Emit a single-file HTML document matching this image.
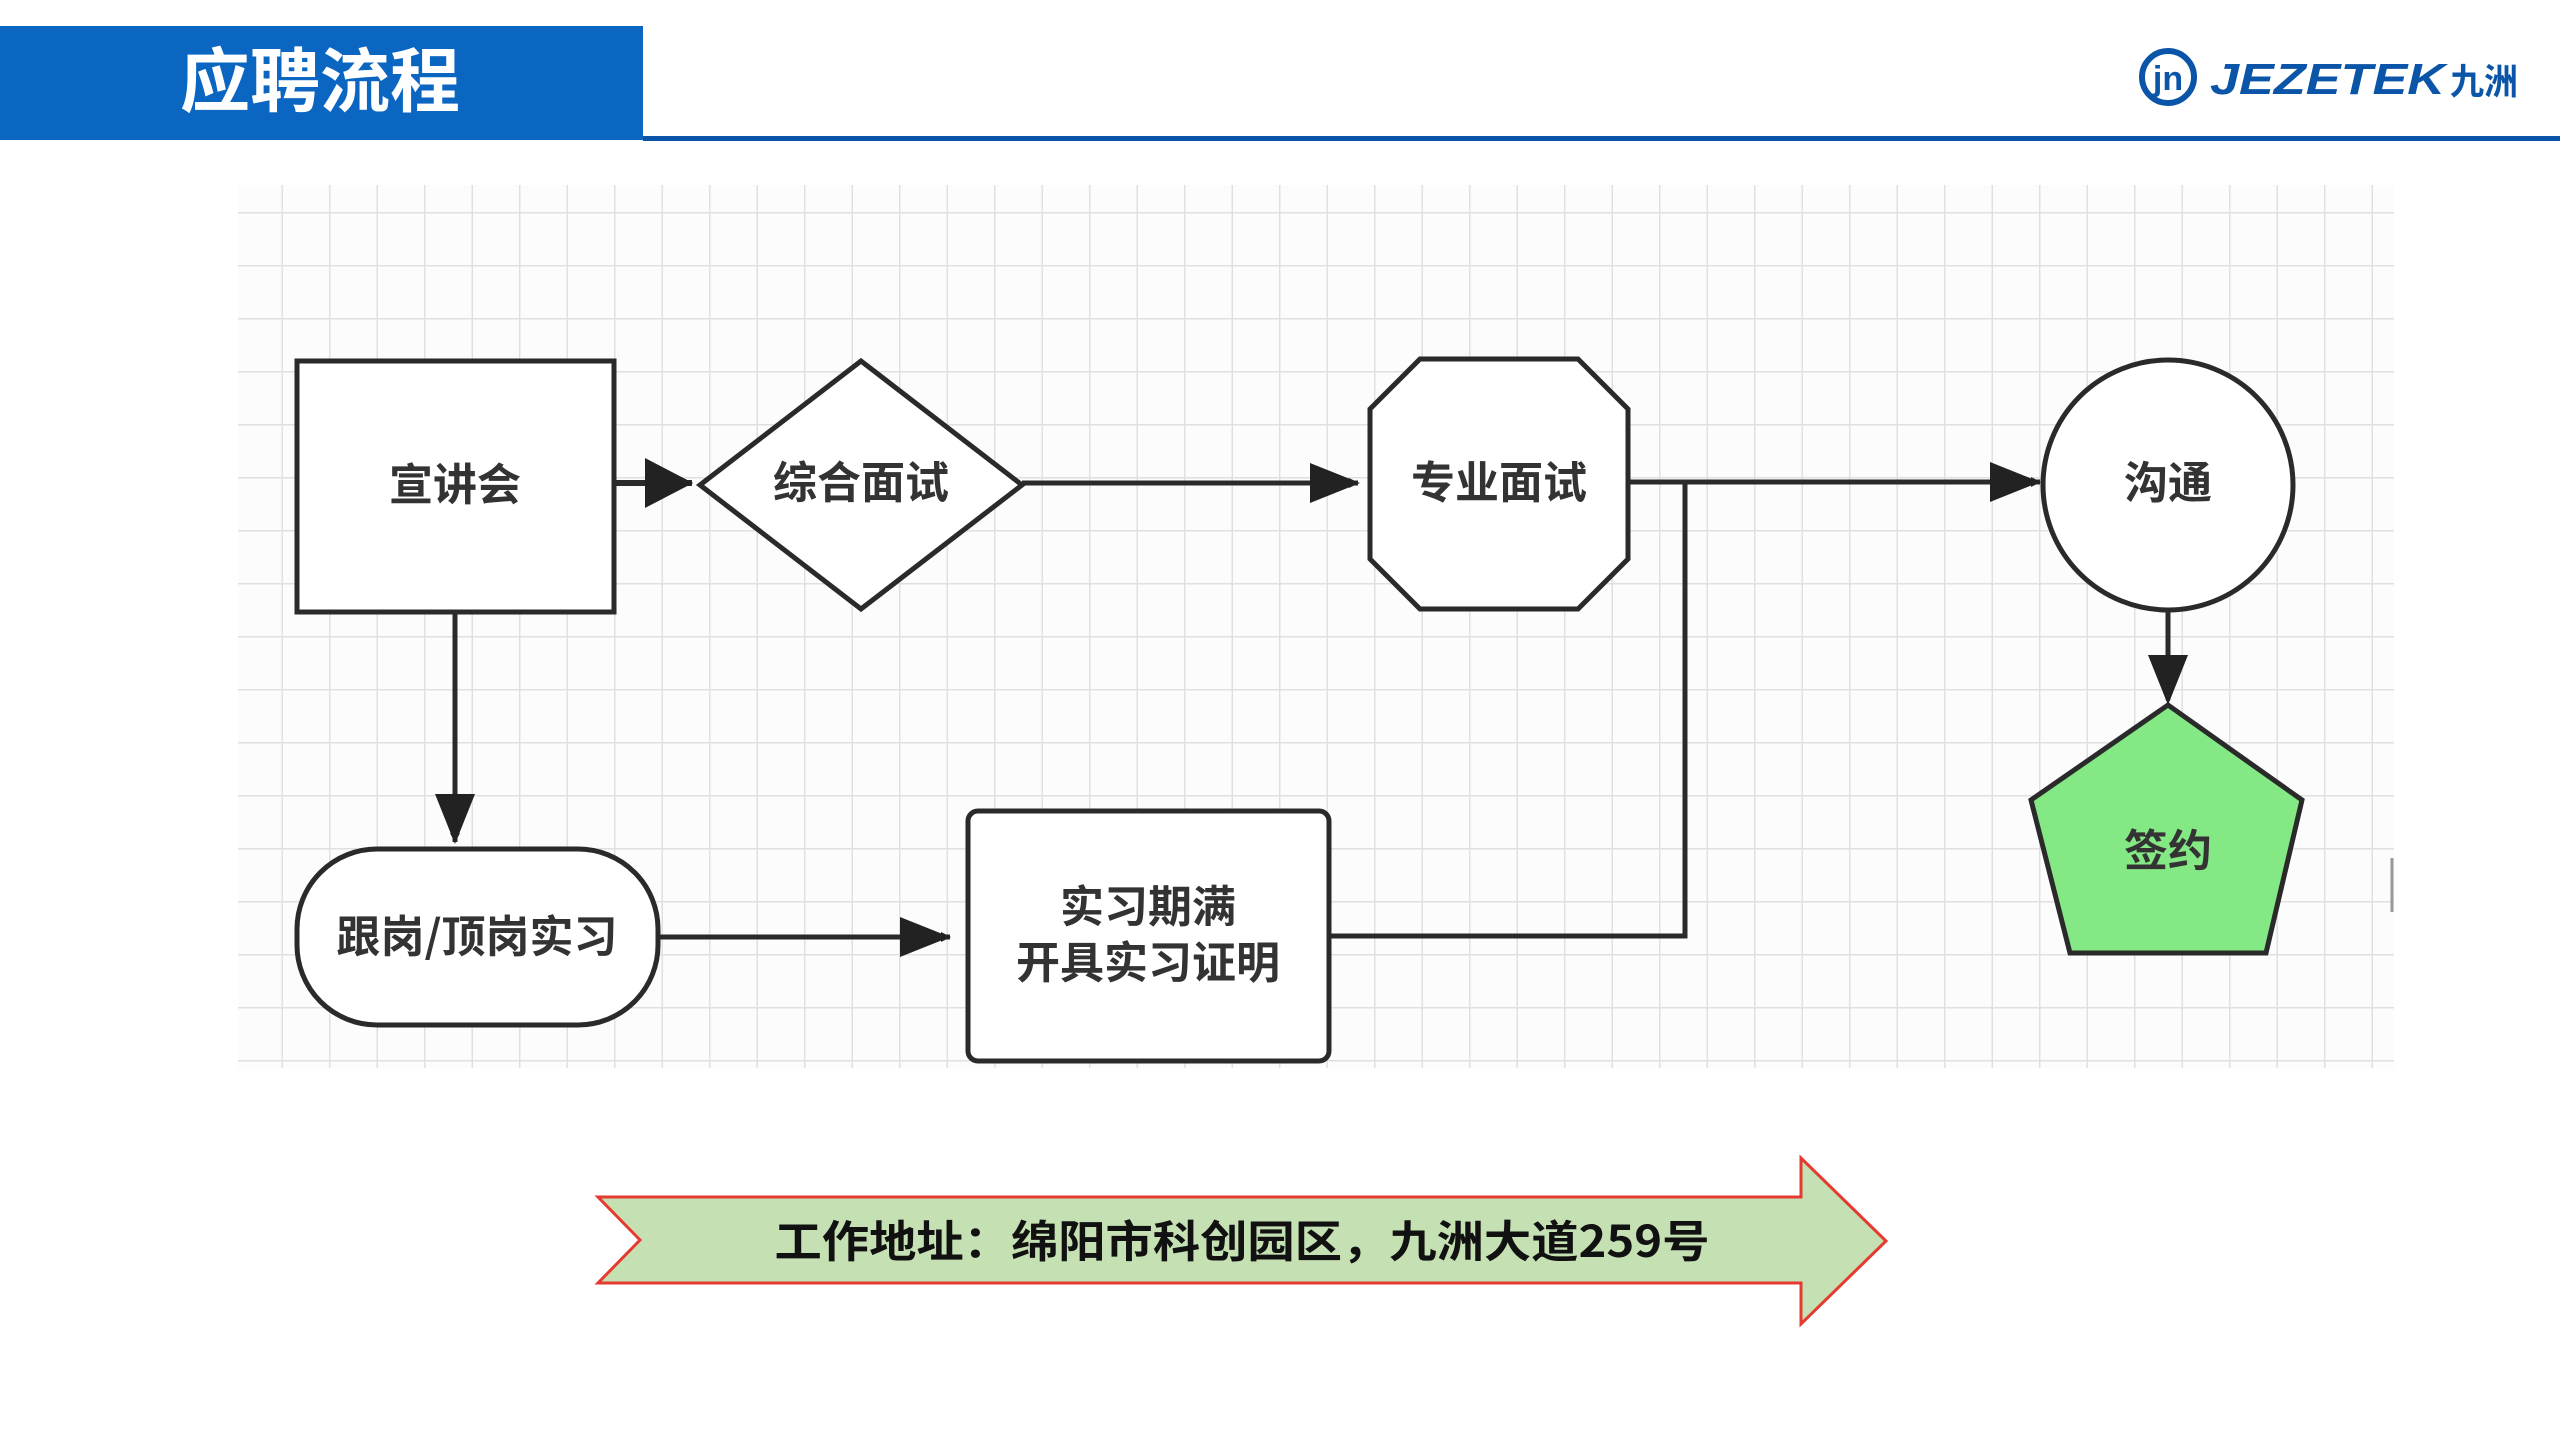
<!DOCTYPE html>
<html><head><meta charset="utf-8"><style>
html,body{margin:0;padding:0;background:#fff;}
body{width:2560px;height:1440px;overflow:hidden;position:relative;font-family:"Liberation Sans","Noto Sans CJK SC",sans-serif;}
</style></head><body>
<svg width="2560" height="1440" viewBox="0 0 2560 1440" xmlns="http://www.w3.org/2000/svg">
<defs>
<pattern id="g" x="234" y="212" width="47.5" height="53" patternUnits="userSpaceOnUse">
<path d="M0.5 0 V53 M0 0.5 H47.5" stroke="#e0e0e0" stroke-width="2" fill="none"/>
</pattern>
<marker id="ah" markerWidth="10" markerHeight="10" refX="9" refY="5" orient="auto" markerUnits="userSpaceOnUse" viewBox="0 0 10 10">
<path d="M0 0 L10 5 L0 10 Z" fill="#222"/>
</marker>
</defs>
<!-- header -->
<rect x="0" y="26" width="643" height="114" fill="#0b66c2"/>
<rect x="643" y="136" width="1917" height="5" fill="#0a55a8"/>
<text x="320" y="106" font-family="'Noto Sans CJK SC',sans-serif" font-weight="bold" font-size="70" fill="#fff" text-anchor="middle">应聘流程</text>
<!-- logo -->
<circle cx="2168" cy="77" r="26" fill="none" stroke="#0b55a8" stroke-width="6"/>
<text x="2168" y="90" font-family="'Liberation Sans',sans-serif" font-weight="bold" font-size="34" fill="#0b55a8" text-anchor="middle">jn</text>
<text x="2210" y="94" font-family="'Liberation Sans',sans-serif" font-weight="bold" font-style="italic" font-size="44" fill="#0b55a8" textLength="235" lengthAdjust="spacingAndGlyphs">JEZETEK</text>
<text x="2450" y="94" font-family="'Noto Sans CJK SC',sans-serif" font-weight="bold" font-size="36" fill="#0b55a8" textLength="68" lengthAdjust="spacingAndGlyphs">九洲</text>
<!-- grid -->
<rect x="238" y="185" width="2156" height="883" fill="#fcfcfc"/>
<rect x="238" y="185" width="2156" height="883" fill="url(#g)"/>
<g stroke="#2a2a2a" stroke-width="5" fill="none">
<rect x="297" y="361" width="317" height="251" fill="#fff"/>
<polygon points="700,485 861,361 1022,485 861,609" fill="#fff"/>
<polygon points="1420,359 1578,359 1628,409 1628,559 1578,609 1420,609 1370,559 1370,409" fill="#fff"/>
<circle cx="2168" cy="485" r="125" fill="#fff"/>
<polygon points="2168,705 2302,800 2266,953 2070,953 2031,800" fill="#84e884"/>
<rect x="297" y="849" width="361" height="176" rx="80" fill="#fff"/>
<rect x="968" y="811" width="361" height="250" rx="10" fill="#fff"/>
<line x1="614" y1="483" x2="692" y2="483" marker-end="url(#ah)" stroke-width="6"/>
<line x1="1022" y1="483" x2="1358" y2="483" marker-end="url(#ah)"/>
<polyline points="1628,482 2036,482"/>
<line x1="2030" y1="482" x2="2040" y2="482" marker-end="url(#ah)"/>
<polyline points="1329,936 1685,936 1685,482"/>
<line x1="2168" y1="610" x2="2168" y2="700" marker-end="url(#ah)"/>
<line x1="455" y1="612" x2="455" y2="842" marker-end="url(#ah)"/>
<line x1="658" y1="937" x2="950" y2="937" marker-end="url(#ah)"/>
</g>
<g>
<path d="M0 0 L48 25 L0 50 Z" fill="#222" transform="translate(645,458)"/>
<path d="M0 0 L50 20 L0 40 Z" fill="#222" transform="translate(1310,463)"/>
<path d="M0 0 L50 20 L0 40 Z" fill="#222" transform="translate(1990,462)"/>
<path d="M0 0 L20 50 L40 0 Z" fill="#222" transform="translate(2148,655)"/>
<path d="M0 0 L20 50 L40 0 Z" fill="#222" transform="translate(435,794)"/>
<path d="M0 0 L50 20 L0 40 Z" fill="#222" transform="translate(900,917)"/>
</g>
<g font-family="'Noto Sans CJK SC',sans-serif" font-weight="bold" font-size="44" fill="#333" text-anchor="middle">
<text x="455" y="500">宣讲会</text>
<text x="861" y="498">综合面试</text>
<text x="1499" y="498">专业面试</text>
<text x="2168" y="498">沟通</text>
<text x="2168" y="866">签约</text>
<text x="477" y="952">跟岗/顶岗实习</text>
<text x="1148" y="922">实习期满</text>
<text x="1148" y="978">开具实习证明</text>
</g>
<line x1="2392" y1="858" x2="2392" y2="912" stroke="#999" stroke-width="3"/>
<!-- address arrow -->
<polygon points="598,1197 1801,1197 1801,1158 1886,1241 1801,1324 1801,1283 598,1283 640,1240" fill="#c5e0b3" stroke="#e53a2f" stroke-width="3"/>
<text x="1242" y="1257" font-family="'Noto Sans CJK SC',sans-serif" font-weight="bold" font-size="44" fill="#111" text-anchor="middle" textLength="935" lengthAdjust="spacingAndGlyphs">工作地址：绵阳市科创园区，九洲大道259号</text>
</svg>
</body></html>
